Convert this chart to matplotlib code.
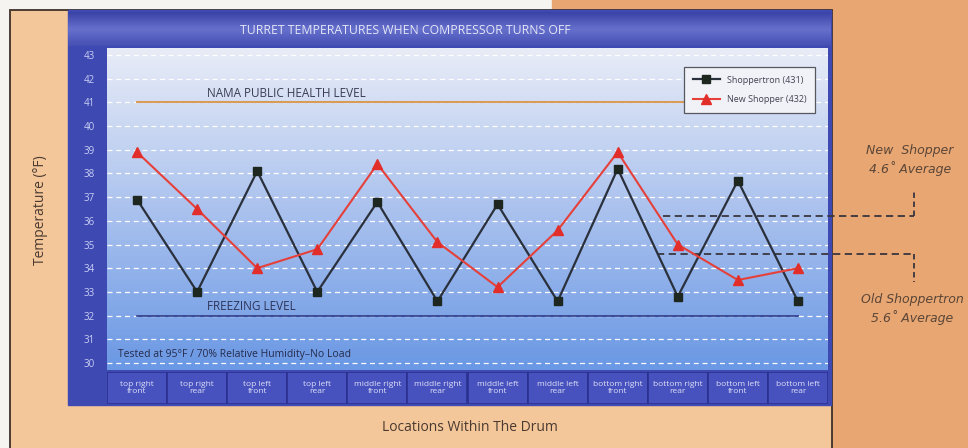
import numpy as np
import matplotlib.pyplot as plt
from matplotlib.patches import Rectangle
from matplotlib.colors import LinearSegmentedColormap

plt.rcParams['font.family'] = ['Open Sans', 'DejaVu Sans']

locations = ['top right\nfront', 'top right\nrear', 'top left\nfront', 'top left\nrear',
             'middle right\nfront', 'middle right\nrear', 'middle left\nfront', 'middle left\nrear',
             'bottom right\nfront', 'bottom right\nrear', 'bottom left\nfront', 'bottom left\nrear']
shoppertron = [36.9, 33.0, 38.1, 33.0, 36.8, 32.6, 36.7, 32.6, 38.2, 32.8, 37.7, 32.6]
new_shopper = [38.9, 36.5, 34.0, 34.8, 38.4, 35.1, 33.2, 35.6, 38.9, 35.0, 33.5, 34.0]
health_level = 41
freezing_level = 32
y_ticks = list(range(30, 44))

W, H = 968, 448
fig = plt.figure(figsize=(W / 100, H / 100), dpi=100)

# background, drawn in pixel coordinates
bg = fig.add_axes([0, 0, 1, 1])
bg.set_xlim(0, W)
bg.set_ylim(H, 0)
bg.axis('off')
bg.add_patch(Rectangle((0, 0), W, H, color='#F6F4F1'))
bg.add_patch(Rectangle((552, 0), W - 552, H, color='#E8A672'))
bg.add_patch(Rectangle((10, 10), 822, H, facecolor='#F4C79B', edgecolor='#3E3028', lw=1.3))
bg.add_patch(Rectangle((68, 10), 763, 395, color='#3E49B2'))
title_cmap = LinearSegmentedColormap.from_list('t', ['#3A43A6', '#6670CC', '#4650B4'])
bg.imshow(np.linspace(0, 1, 50).reshape(-1, 1), extent=[68, 831, 46, 12], aspect='auto',
          cmap=title_cmap, zorder=2)
bg.text(405, 31, 'TURRET TEMPERATURES WHEN COMPRESSOR TURNS OFF', color='#E4E6F6',
        fontsize=8.8, ha='center', va='center', zorder=3)

# main plot area
ax = fig.add_axes([107 / W, 1 - 370 / H, 721 / W, 322 / H])
ax.set_xlim(-0.5, 11.5)
ax.set_ylim(29.7, 43.3)
grad_cmap = LinearSegmentedColormap.from_list('g', ['#6A98E4', '#ABC2EE', '#E8ECF7'])
ax.imshow(np.linspace(0, 1, 200).reshape(-1, 1), extent=[-0.5, 11.5, 29.7, 43.3],
          origin='lower', aspect='auto', cmap=grad_cmap, zorder=0)
for v in y_ticks:
    ax.axhline(v, color='white', lw=0.9, ls=(0, (4, 3)), zorder=1)
for s in ax.spines.values():
    s.set_visible(False)
ax.set_xticks([])
ax.set_yticks(y_ticks)
ax.tick_params(axis='y', length=0, pad=9, labelsize=7, labelcolor='#C8CFF4')

x = np.arange(len(locations))
ax.plot([0, 11], [health_level, health_level], color='#D99C58', lw=1.5, zorder=2)
ax.plot([0, 11], [freezing_level, freezing_level], color='#2E3A88', lw=1.2, zorder=2)
ax.text(1.17, health_level + 0.12, 'NAMA PUBLIC HEALTH LEVEL', fontsize=8.5,
        color='#3A3C52', va='bottom', zorder=3)
ax.text(1.17, freezing_level + 0.1, 'FREEZING LEVEL', fontsize=8.5,
        color='#2E3458', va='bottom', zorder=3)
ax.text(-0.32, 30.35, 'Tested at 95°F / 70% Relative Humidity\u2013No Load', fontsize=7.5,
        color='#262C4C', va='center', zorder=3)

l1, = ax.plot(x, shoppertron, color='#2A303C', lw=1.6, marker='s', markersize=6,
              markerfacecolor='#1E2620', markeredgecolor='#1E2620', zorder=4,
              label='Shoppertron (431)')
l2, = ax.plot(x, new_shopper, color='#E5403A', lw=1.5, marker='^', markersize=7,
              markerfacecolor='#E22E2A', markeredgecolor='#E22E2A', zorder=5,
              label='New Shopper (432)')

# average guides running out to the side notes
ax.plot([8.75, 12.93], [36.2, 36.2], ls=(0, (4, 2.5)), color='#3A3640', lw=1.3,
        clip_on=False, zorder=3)
ax.plot([12.93, 12.93], [36.2, 37.3], ls=(0, (3, 2)), color='#3A3640', lw=1.3,
        clip_on=False, zorder=3)
ax.plot([8.65, 12.93], [34.6, 34.6], ls=(0, (4, 2.5)), color='#3A3640', lw=1.3,
        clip_on=False, zorder=3)
ax.plot([12.93, 12.93], [34.6, 33.4], ls=(0, (3, 2)), color='#3A3640', lw=1.3,
        clip_on=False, zorder=3)

leg = ax.legend(handles=[l1, l2], loc='upper right',
                bbox_to_anchor=(1 - 8 / 721, 1 - 14 / 322), fontsize=6.5,
                frameon=True, fancybox=False, framealpha=1, facecolor='#F1F2F8',
                edgecolor='#55585F', handlelength=3, borderpad=1.0, labelspacing=1.2)
leg.get_frame().set_linewidth(0.9)
for t in leg.get_texts():
    t.set_color('#404450')

# category boxes under the plot
cat = fig.add_axes([107 / W, 1 - 404 / H, 721 / W, 32 / H])
cat.set_xlim(-0.5, 11.5)
cat.set_ylim(0, 1)
cat.axis('off')
cat.bar(x, [1] * len(x), width=1, color='#4852BE', edgecolor='#2A3190', lw=1.2)
for i, lab in enumerate(locations):
    cat.text(i, 0.5, lab, ha='center', va='center', fontsize=6, color='#DCE0F6',
             linespacing=1.1)

# axis titles and side notes
fig.text(40 / W, 1 - 210 / H, 'Temperature (°F)', rotation=90, ha='center', va='center',
         fontsize=10, color='#4A3A30')
fig.text(470 / W, 1 - 427 / H, 'Locations Within The Drum', ha='center', va='center',
         fontsize=10, color='#4A3A30')
side = dict(ha='center', va='center', fontsize=9, style='italic', color='#5A4638',
            family=['Liberation Sans Narrow', 'DejaVu Sans'], linespacing=1.3)
fig.text(910 / W, 1 - 160 / H, 'New  Shopper\n4.6˚ Average', **side)
fig.text(912 / W, 1 - 309 / H, 'Old Shoppertron\n5.6˚ Average', **side)

fig.savefig('out.png', dpi=100)
